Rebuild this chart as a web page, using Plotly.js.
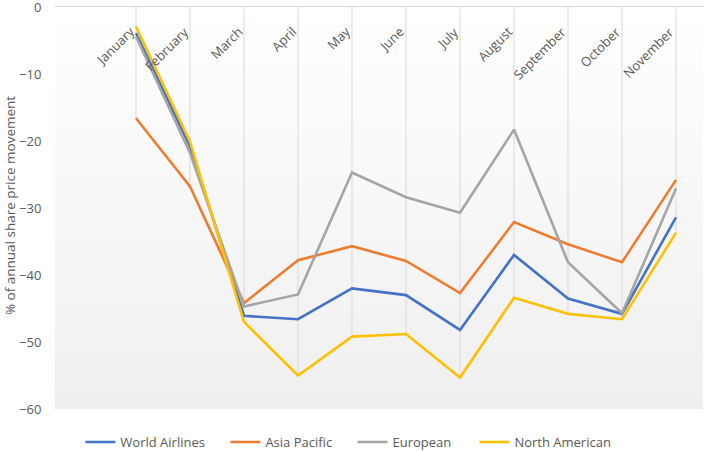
<!DOCTYPE html>
<html><head><meta charset="utf-8">
<script src="https://cdn.plot.ly/plotly-3.0.1.min.js"></script>
<style>html,body{margin:0;padding:0;background:#fff}#chart{width:705px;height:451px}</style>
</head><body><div id="chart"></div>
<script>
const months = ['January','February','March','April','May','June','July','August','September','October','November'];
const worldAirlines = [-3.9,-20.8,-46.1,-46.6,-42.0,-43.0,-48.2,-37.0,-43.5,-45.8,-31.4];
const asiaPacific   = [-16.6,-26.8,-44.2,-37.8,-35.7,-37.9,-42.7,-32.1,-35.4,-38.1,-25.8];
const european      = [-4.4,-21.8,-44.7,-42.9,-24.7,-28.4,-30.7,-18.3,-38.1,-45.7,-27.1];
const northAmerican = [-2.9,-20.1,-47.0,-55.0,-49.2,-48.8,-55.3,-43.4,-45.8,-46.6,-33.7];
const yTicks = [0,-10,-20,-30,-40,-50,-60];
const seriesNames = ['World Airlines','Asia Pacific','European','North American'];
const seriesColors = ['#4472C4','#ED7D31','#A5A5A5','#FFC000'];
const yTitle = '% of annual share price movement';

const allSeries = [worldAirlines, asiaPacific, european, northAmerican];
const FONT = 'Open Sans, sans-serif';
const TEXT = '#595959';

// drop lines from the category axis (at 0) down to the lowest value of each month
const dropX = [], dropY = [];
months.forEach((m, i) => {
  const lo = Math.min(...allSeries.map(s => s[i]));
  dropX.push(m, m, null);
  dropY.push(0, lo, null);
});

const legendIds = ['legend','legend2','legend3','legend4'];
const legendX = [0.114, 0.3197, 0.4999, 0.6729];

const traces = [{
  x: dropX, y: dropY, mode: 'lines', type: 'scatter',
  line: {color: '#d9d9d9', width: 1}, showlegend: false, hoverinfo: 'skip'
}];
allSeries.forEach((s, k) => {
  traces.push({
    x: months, y: s, name: seriesNames[k], type: 'scatter', mode: 'lines',
    line: {color: seriesColors[k], width: 2.6}, legend: legendIds[k]
  });
});

const gradSvg = '<svg xmlns="http://www.w3.org/2000/svg" width="10" height="100" preserveAspectRatio="none"><defs><linearGradient id="g" x1="0" y1="0" x2="0" y2="1"><stop offset="0" stop-color="#ffffff"/><stop offset="1" stop-color="#efefef"/></linearGradient></defs><rect width="10" height="100" fill="url(#g)"/></svg>';

const annotations = months.map(m => ({
  x: m, y: 0, xref: 'x', yref: 'y', text: m, showarrow: false,
  textangle: -45, xanchor: 'right', yanchor: 'top', xshift: 5, yshift: -13,
  font: {family: FONT, size: 13, color: TEXT}
}));
annotations.push({
  xref: 'paper', yref: 'paper', x: -0.0702, y: 0.506, text: yTitle, showarrow: false,
  textangle: -90, xanchor: 'center', yanchor: 'middle',
  font: {family: FONT, size: 13.5, color: TEXT}
});

const layout = {
  width: 705, height: 451,
  margin: {l: 55, r: 2, t: 7, b: 42},
  paper_bgcolor: '#ffffff', plot_bgcolor: 'rgba(0,0,0,0)',
  images: [{
    source: 'data:image/svg+xml;charset=utf-8,' + encodeURIComponent(gradSvg),
    xref: 'paper', yref: 'paper', x: 0, y: 1, sizex: 1, sizey: 1,
    sizing: 'stretch', layer: 'below', xanchor: 'left', yanchor: 'top'
  }],
  xaxis: {
    type: 'category', range: [-1.5, 10.5], side: 'top',
    showgrid: false, zeroline: false, showticklabels: false, ticks: '',
    showline: true, linecolor: '#d9d9d9', linewidth: 1.3
  },
  yaxis: {
    range: [-60, 0], tickvals: yTicks, showgrid: false, zeroline: false,
    showline: false, ticks: 'outside', ticklen: 10, tickcolor: 'rgba(0,0,0,0)',
    ticklabeloverflow: 'allow',
    tickfont: {family: FONT, size: 13, color: TEXT}
  },
  showlegend: true,
  annotations: annotations
};
legendIds.forEach((id, k) => {
  layout[id] = {
    orientation: 'h', xref: 'container', yref: 'container',
    x: legendX[k], y: 0.02, xanchor: 'left', yanchor: 'middle',
    font: {family: FONT, size: 13, color: TEXT}, bgcolor: 'rgba(0,0,0,0)'
  };
});

Plotly.newPlot('chart', traces, layout, {displayModeBar: false, staticPlot: true});
</script>
</body></html>
